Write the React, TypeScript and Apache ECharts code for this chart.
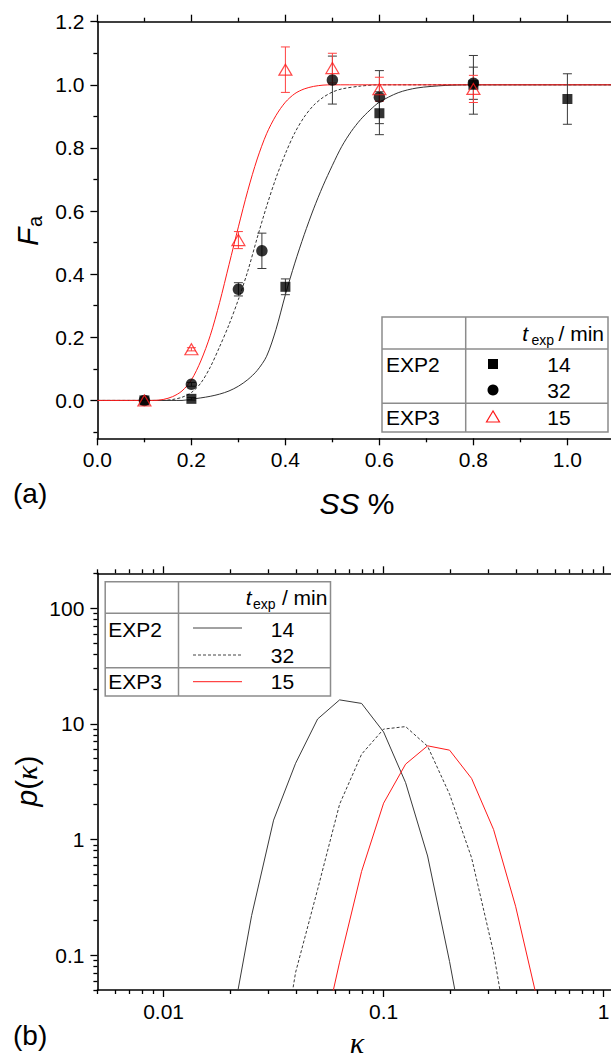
import React, { useEffect, useRef } from 'react';
import * as echarts from 'echarts';

const SANS = '"Liberation Sans", Arial, Helvetica, sans-serif';
const SERIF = '"Liberation Serif", "Times New Roman", serif';

// ---------------- Panel (a) ----------------
const ssMajorTicks = [0, 0.2, 0.4, 0.6, 0.8, 1.0];
const ssMinorTicks = [0.1, 0.3, 0.5, 0.7, 0.9];
const faMajorTicks = [0, 0.2, 0.4, 0.6, 0.8, 1.0, 1.2];
const faMinorTicks = [-0.1, 0.1, 0.3, 0.5, 0.7, 0.9, 1.1];
const ssMin = 0;
const ssMax = 1.1;
const faMin = -0.12;
const faMax = 1.2;

// EXP2, t_exp = 14 min (squares)
const exp2t14SS = [0.1, 0.2, 0.4, 0.6, 0.8, 1.0];
const exp2t14Fa = [0.0, 0.005, 0.36, 0.91, 1.0, 0.955];
const exp2t14Err = [0, 0.004, 0.025, 0.068, 0.093, 0.08];

// EXP2, t_exp = 32 min (circles)
const exp2t32SS = [0.1, 0.2, 0.3, 0.35, 0.5, 0.6, 0.8];
const exp2t32Fa = [0.0, 0.051, 0.352, 0.474, 1.015, 0.961, 1.005];
const exp2t32Err = [0, 0.006, 0.021, 0.056, 0.076, 0.084, 0.051];

// EXP3, t_exp = 15 min (open triangles)
const exp3t15SS = [0.1, 0.2, 0.3, 0.4, 0.5, 0.6, 0.8];
const exp3t15Fa = [0.0, 0.162, 0.508, 1.048, 1.053, 0.986, 0.987];
const exp3t15Err = [0, 0.005, 0.027, 0.072, 0.047, 0.038, 0.043];

// fitted curves
const fit14SS = [0, 0.18, 0.2, 0.22, 0.24, 0.26, 0.28, 0.3, 0.32, 0.34, 0.36, 0.38, 0.4, 0.42, 0.44, 0.46, 0.48, 0.5, 0.52, 0.54, 0.56, 0.58, 0.6, 0.64, 0.68, 0.74, 0.8, 1.1];
const fit14Fa = [0, 0, 0.004, 0.008, 0.013, 0.02, 0.03, 0.045, 0.066, 0.095, 0.14, 0.225, 0.335, 0.435, 0.525, 0.607, 0.68, 0.745, 0.805, 0.852, 0.89, 0.92, 0.945, 0.975, 0.99, 0.998, 1.0, 1.0];
const fit32SS = [0, 0.14, 0.16, 0.18, 0.2, 0.22, 0.24, 0.26, 0.28, 0.3, 0.32, 0.34, 0.36, 0.38, 0.4, 0.42, 0.44, 0.46, 0.48, 0.5, 0.52, 0.56, 0.6, 1.1];
const fit32Fa = [0, 0, 0.003, 0.01, 0.025, 0.055, 0.105, 0.17, 0.24, 0.32, 0.41, 0.515, 0.615, 0.705, 0.782, 0.848, 0.898, 0.935, 0.96, 0.977, 0.987, 0.996, 1.0, 1.0];
const fit15SS = [0, 0.12, 0.14, 0.16, 0.18, 0.2, 0.22, 0.24, 0.26, 0.28, 0.3, 0.32, 0.34, 0.36, 0.38, 0.4, 0.42, 0.44, 0.46, 0.48, 0.5, 1.1];
const fit15Fa = [0, 0, 0.003, 0.012, 0.03, 0.065, 0.125, 0.205, 0.31, 0.43, 0.55, 0.665, 0.765, 0.845, 0.903, 0.945, 0.972, 0.987, 0.995, 0.999, 1.0, 1.0];

// ---------------- Panel (b) ----------------
const kappaMin = 0.005;
const kappaMax = 1.12;
const pMin = 0.05;
const pMax = 200;
const kappaMajorTicks = [0.01, 0.1, 1];
const kappaTickLabels = ['0.01', '0.1', '1'];
const kappaMinorTicks = [0.005, 0.006, 0.007, 0.008, 0.009, 0.02, 0.03, 0.04, 0.05, 0.06, 0.07, 0.08, 0.09, 0.2, 0.3, 0.4, 0.5, 0.6, 0.7, 0.8, 0.9];
const pMajorTicks = [0.1, 1, 10, 100];
const pTickLabels = ['0.1', '1', '10', '100'];
const pMinorTicks = [0.05, 0.06, 0.07, 0.08, 0.09, 0.2, 0.3, 0.4, 0.5, 0.6, 0.7, 0.8, 0.9, 2, 3, 4, 5, 6, 7, 8, 9, 20, 30, 40, 50, 60, 70, 80, 90, 200];

const p14Kappa = [0.01995, 0.02512, 0.03162, 0.03981, 0.05012, 0.0631, 0.07943, 0.1, 0.1259, 0.1585, 0.1995, 0.2512];
const p14 = [0.02, 0.22, 1.47, 4.56, 11.0, 16.1, 15.0, 8.5, 3.1, 0.72, 0.088, 0.0083];
const p32Kappa = [0.03162, 0.03981, 0.05012, 0.0631, 0.07943, 0.1, 0.1259, 0.1585, 0.1995, 0.2512, 0.3162, 0.3981];
const p32 = [0.005, 0.071, 0.37, 2.02, 5.46, 9.0, 9.46, 6.4, 2.46, 0.695, 0.105, 0.0081];
const p15Kappa = [0.05012, 0.0631, 0.07943, 0.1, 0.1259, 0.1585, 0.1995, 0.2512, 0.3162, 0.3981, 0.5012];
const p15 = [0.0123, 0.087, 0.53, 2.06, 4.48, 6.45, 5.92, 3.37, 1.22, 0.265, 0.04];

const RED = '#ff1a1a';
const GRAY = '#8c8c8c';

const zip = (a: number[], b: number[]) => a.map((v, i) => [v, b[i]]);

const axisLineStyle = { color: '#000', width: 1.6 };

function tickAxis(o: any) {
  return {
    type: 'value',
    gridIndex: o.grid,
    position: o.pos,
    min: o.min,
    max: o.max,
    axisLine: { show: !!o.line, onZero: false, lineStyle: axisLineStyle },
    axisTick: {
      show: true,
      inside: false,
      length: o.len,
      customValues: o.ticks,
      lineStyle: { color: '#000', width: 1.3 },
    },
    axisLabel: o.labels
      ? {
          show: true,
          customValues: o.labels.values,
          formatter: o.labels.fmt,
          margin: o.labels.margin,
          fontSize: 21,
          fontFamily: SANS,
          color: '#000',
        }
      : { show: false },
    splitLine: { show: false },
    minorTick: { show: false },
    minorSplitLine: { show: false },
  };
}

function logDataAxis(grid: number, pos: string, min: number, max: number) {
  return {
    type: 'log',
    logBase: 10,
    gridIndex: grid,
    position: pos,
    min,
    max,
    axisLine: { show: true, onZero: false, lineStyle: axisLineStyle },
    axisTick: { show: false },
    axisLabel: { show: false },
    splitLine: { show: false },
    minorTick: { show: false },
  };
}

const L = Math.log10;
const kappaFmt = (v: number) => {
  const i = kappaMajorTicks.findIndex((t) => Math.abs(L(t) - v) < 1e-6);
  return i >= 0 ? kappaTickLabels[i] : '';
};
const pFmt = (v: number) => {
  const i = pMajorTicks.findIndex((t) => Math.abs(L(t) - v) < 1e-6);
  return i >= 0 ? pTickLabels[i] : '';
};

function errorSeries(xs: number[], ys: number[], es: number[], color: string) {
  return {
    type: 'custom',
    xAxisIndex: 0,
    yAxisIndex: 0,
    z: 3,
    silent: true,
    data: xs.map((x, i) => [x, ys[i], es[i]]),
    encode: { x: 0, y: 1 },
    renderItem: (params: any, api: any) => {
      const x = api.value(0);
      const y = api.value(1);
      const e = api.value(2);
      if (!e) return null;
      const p1 = api.coord([x, y + e]);
      const p2 = api.coord([x, y - e]);
      const w = 4.5;
      const style = { stroke: color, lineWidth: 1, fill: null };
      return {
        type: 'group',
        children: [
          { type: 'line', shape: { x1: p1[0], y1: p1[1], x2: p2[0], y2: p2[1] }, style },
          { type: 'line', shape: { x1: p1[0] - w, y1: p1[1], x2: p1[0] + w, y2: p1[1] }, style },
          { type: 'line', shape: { x1: p2[0] - w, y1: p2[1], x2: p2[0] + w, y2: p2[1] }, style },
        ],
      };
    },
  };
}

function txt(x: number, y: number, text: string, font: string, align = 'left', fill = '#000', extra: any = {}) {
  return {
    type: 'text',
    x,
    y,
    z: 110,
    style: { text, font, fill, textAlign: align, textVerticalAlign: 'middle', align, verticalAlign: 'middle' },
    ...extra,
  };
}

function hline(x1: number, x2: number, y: number, color = GRAY, lw = 1.5, dash?: number[]) {
  return { type: 'line', z: 105, shape: { x1, y1: y, x2, y2: y }, style: { stroke: color, lineWidth: lw, lineDash: dash } };
}
function vline(x: number, y1: number, y2: number) {
  return { type: 'line', z: 105, shape: { x1: x, y1, x2: x, y2 }, style: { stroke: GRAY, lineWidth: 1.5 } };
}

function fitLine(xs: number[], ys: number[], color: string, dashed = false) {
  return {
    type: 'line',
    xAxisIndex: 0,
    yAxisIndex: 0,
    data: zip(xs, ys),
    showSymbol: false,
    symbol: 'none',
    smooth: 0.3,
    lineStyle: { color, width: 1, type: dashed ? [3, 2] : 'solid' },
    z: 2,
    silent: true,
  };
}

function distLine(xs: number[], ys: number[], color: string, dashed = false) {
  return {
    type: 'line',
    xAxisIndex: 4,
    yAxisIndex: 2,
    data: zip(xs, ys),
    showSymbol: false,
    symbol: 'none',
    lineStyle: { color, width: 1, type: dashed ? [3, 2] : 'solid' },
    clip: true,
    z: 2,
    silent: true,
  };
}

function buildOption() {
  const F21 = `21px ${SANS}`;
  const graphics: any[] = [
    // ---- legend (a)
    { type: 'rect', z: 100, shape: { x: 382, y: 317, width: 226, height: 115 }, style: { fill: '#fff', stroke: GRAY, lineWidth: 1.5 } },
    hline(382, 608, 349),
    hline(382, 608, 403.3),
    vline(465.7, 317, 432),
    txt(528, 333, 't', `italic 21px ${SANS}`, 'right'),
    txt(554, 340, 'exp', `14px ${SANS}`, 'right'),
    txt(604, 333, '/ min', F21, 'right'),
    txt(386, 364, 'EXP2', F21),
    txt(386, 417, 'EXP3', F21),
    txt(559, 364, '14', F21, 'center'),
    txt(559, 390, '32', F21, 'center'),
    txt(559, 417, '15', F21, 'center'),
    { type: 'rect', z: 110, shape: { x: 488, y: 359, width: 10, height: 10 }, style: { fill: '#000' } },
    { type: 'circle', z: 110, shape: { cx: 493, cy: 390, r: 5.5 }, style: { fill: '#000' } },
    {
      type: 'polygon',
      z: 110,
      shape: { points: [[493, 411], [486.5, 422], [499.5, 422]] },
      style: { fill: 'none', stroke: RED, lineWidth: 1.2 },
    },
    // ---- legend (b)
    { type: 'rect', z: 100, shape: { x: 105.2, y: 581.7, width: 225.3, height: 114.3 }, style: { fill: '#fff', stroke: GRAY, lineWidth: 1.5 } },
    hline(105.2, 330.5, 613.3),
    hline(105.2, 330.5, 667.7),
    vline(178.5, 581.7, 696),
    txt(251.5, 597.3, 't', `italic 21px ${SANS}`, 'right'),
    txt(275.5, 603.5, 'exp', `14px ${SANS}`, 'right'),
    txt(327.4, 597.3, '/ min', F21, 'right'),
    txt(108.3, 629, 'EXP2', F21),
    txt(108.3, 681.7, 'EXP3', F21),
    txt(282.5, 629, '14', F21, 'center'),
    txt(282.5, 655, '32', F21, 'center'),
    txt(282.5, 681.7, '15', F21, 'center'),
    hline(193, 242, 628, '#444', 1),
    hline(193, 242, 655, '#444', 1, [3, 2]),
    hline(193, 242, 681.7, RED, 1),
    // ---- panel labels
    txt(13, 493, '(a)', `28px ${SANS}`),
    txt(13, 1035, '(b)', `28px ${SANS}`),
    // ---- axis titles
    {
      type: 'group',
      x: 27,
      y: 231,
      rotation: Math.PI / 2,
      children: [
        txt(-15, 0, 'F', `italic 30px ${SANS}`),
        txt(4, 8, 'a', `20px ${SANS}`),
      ],
    },
    {
      type: 'text',
      x: 357,
      y: 503,
      z: 110,
      style: {
        text: '{i|SS}{n| %}',
        textAlign: 'center',
        textVerticalAlign: 'middle',
        align: 'center',
        verticalAlign: 'middle',
        fill: '#000',
        rich: {
          i: { fontSize: 30, fontFamily: SANS, fontStyle: 'italic', fill: '#000' },
          n: { fontSize: 30, fontFamily: SANS, fill: '#000' },
        },
      },
    },
    {
      type: 'text',
      x: 26,
      y: 781,
      z: 110,
      rotation: Math.PI / 2,
      style: {
        text: '{p|p}{b|(}{k|κ}{b|)}',
        textAlign: 'center',
        textVerticalAlign: 'middle',
        align: 'center',
        verticalAlign: 'middle',
        fill: '#000',
        rich: {
          p: { fontSize: 30, fontFamily: SANS, fontStyle: 'italic', fill: '#000' },
          b: { fontSize: 30, fontFamily: SANS, fill: '#000' },
          k: { fontSize: 30, fontFamily: SERIF, fontStyle: 'italic', fill: '#000' },
        },
      },
    },
    txt(357, 1042, 'κ', `italic 30px ${SERIF}`, 'center'),
  ];

  const topFmt = (v: number) => v.toFixed(1);

  return {
    animation: false,
    backgroundColor: '#fff',
    grid: [
      { left: 97.4, top: 21.7, width: 517, height: 416.6, outerBoundsMode: 'none', containLabel: false },
      { left: 97.4, top: 573.3, width: 517, height: 416.7, outerBoundsMode: 'none', containLabel: false },
    ],
    xAxis: [
      tickAxis({ grid: 0, pos: 'bottom', min: ssMin, max: ssMax, ticks: ssMajorTicks, len: 7, line: true, labels: { values: ssMajorTicks, fmt: topFmt, margin: 11 } }),
      tickAxis({ grid: 0, pos: 'bottom', min: ssMin, max: ssMax, ticks: ssMinorTicks, len: 4 }),
      tickAxis({ grid: 0, pos: 'top', min: ssMin, max: ssMax, ticks: ssMajorTicks, len: 7, line: true }),
      tickAxis({ grid: 0, pos: 'top', min: ssMin, max: ssMax, ticks: ssMinorTicks, len: 4 }),
      logDataAxis(1, 'bottom', kappaMin, kappaMax),
      tickAxis({ grid: 1, pos: 'bottom', min: L(kappaMin), max: L(kappaMax), ticks: kappaMajorTicks.map(L), len: 7, labels: { values: kappaMajorTicks.map(L), fmt: kappaFmt, margin: 11 } }),
      tickAxis({ grid: 1, pos: 'bottom', min: L(kappaMin), max: L(kappaMax), ticks: kappaMinorTicks.map(L), len: 4 }),
      tickAxis({ grid: 1, pos: 'top', min: L(kappaMin), max: L(kappaMax), ticks: kappaMajorTicks.map(L), len: 7, line: true }),
      tickAxis({ grid: 1, pos: 'top', min: L(kappaMin), max: L(kappaMax), ticks: kappaMinorTicks.map(L), len: 4 }),
    ],
    yAxis: [
      tickAxis({ grid: 0, pos: 'left', min: faMin, max: faMax, ticks: faMajorTicks, len: 7, line: true, labels: { values: faMajorTicks, fmt: topFmt, margin: 13 } }),
      tickAxis({ grid: 0, pos: 'left', min: faMin, max: faMax, ticks: faMinorTicks, len: 4 }),
      logDataAxis(1, 'left', pMin, pMax),
      tickAxis({ grid: 1, pos: 'left', min: L(pMin), max: L(pMax), ticks: pMajorTicks.map(L), len: 7, labels: { values: pMajorTicks.map(L), fmt: pFmt, margin: 13 } }),
      tickAxis({ grid: 1, pos: 'left', min: L(pMin), max: L(pMax), ticks: pMinorTicks.map(L), len: 4 }),
    ],
    series: [
      // fits
      fitLine(fit14SS, fit14Fa, '#333'),
      fitLine(fit32SS, fit32Fa, '#333', true),
      fitLine(fit15SS, fit15Fa, RED),
      // error bars
      errorSeries(exp2t14SS, exp2t14Fa, exp2t14Err, '#3a3a3a'),
      errorSeries(exp2t32SS, exp2t32Fa, exp2t32Err, '#3a3a3a'),
      errorSeries(exp3t15SS, exp3t15Fa, exp3t15Err, '#ff4040'),
      // markers
      { type: 'scatter', xAxisIndex: 0, yAxisIndex: 0, data: zip(exp2t14SS, exp2t14Fa), symbol: 'rect', symbolSize: 10, itemStyle: { color: '#000' }, z: 4, silent: true },
      { type: 'scatter', xAxisIndex: 0, yAxisIndex: 0, data: zip(exp2t32SS, exp2t32Fa), symbol: 'circle', symbolSize: 11.5, itemStyle: { color: '#000' }, z: 4, silent: true },
      { type: 'scatter', xAxisIndex: 0, yAxisIndex: 0, data: zip(exp3t15SS, exp3t15Fa), symbol: 'triangle', symbolSize: [13, 11], itemStyle: { color: 'rgba(255,255,255,0)', borderColor: RED, borderWidth: 1.2 }, z: 5, silent: true },
      // panel (b)
      distLine(p14Kappa, p14, '#3a3a3a'),
      distLine(p32Kappa, p32, '#3a3a3a', true),
      distLine(p15Kappa, p15, RED),
    ],
    graphic: { elements: graphics },
  };
}

export default function App() {
  const ref = useRef<HTMLDivElement>(null);
  useEffect(() => {
    if (!ref.current) return;
    const chart = echarts.init(ref.current, null, { renderer: 'svg' });
    chart.setOption(buildOption() as any);
    return () => chart.dispose();
  }, []);
  return (
    <div style={{ position: 'absolute', left: 0, top: 0, width: 611, height: 1057, overflow: 'hidden', background: '#fff' }}>
      <div ref={ref} style={{ width: 640, height: 1057 }} />
    </div>
  );
}
